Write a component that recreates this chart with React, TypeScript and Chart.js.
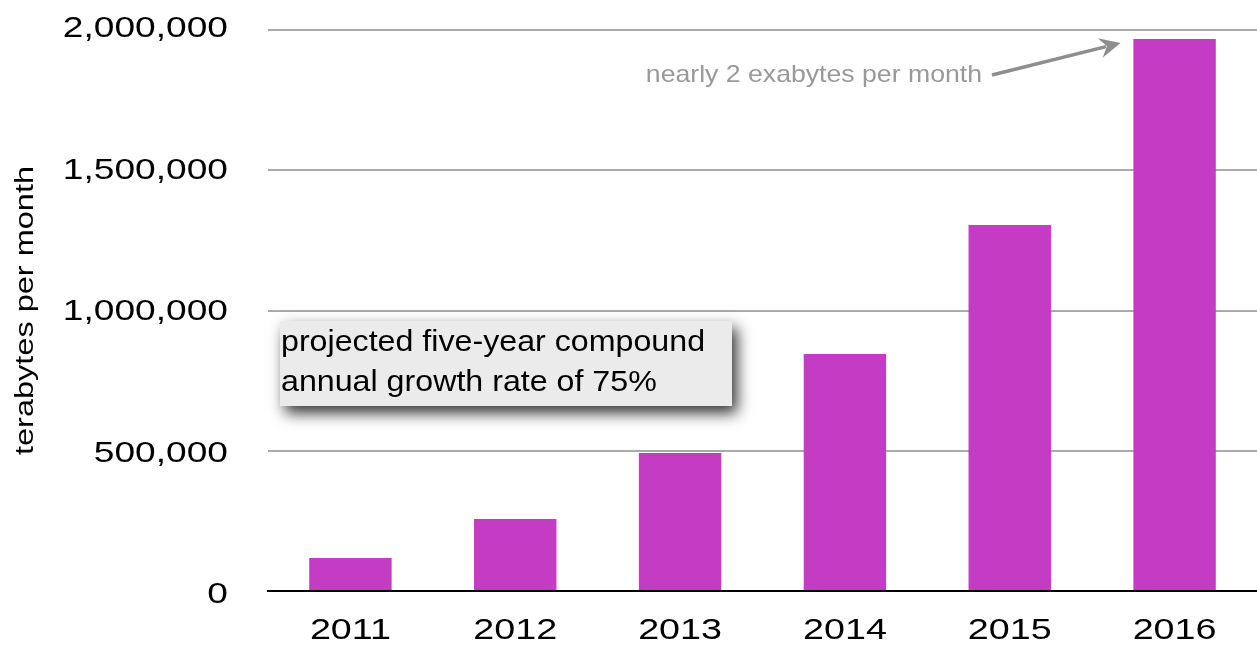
import React, { useEffect, useRef } from "react";
import { Chart, registerables } from "chart.js";

Chart.register(...registerables);

const years = ["2011", "2012", "2013", "2014", "2015", "2016"];
const terabytesPerMonth = [118000, 257000, 492000, 845000, 1305000, 1968000];
const yTicks = [0, 500000, 1000000, 1500000, 2000000];
const yMax = 2000000;
const axisTitle = "terabytes per month";
const boxLines = ["projected five-year compound", "annual growth rate of 75%"];
const arrowNote = "nearly 2 exabytes per month";

const FONT = "'Liberation Sans', Arial, Helvetica, sans-serif";

function drawText(
  ctx: CanvasRenderingContext2D,
  text: string,
  x: number,
  y: number,
  align: "left" | "right" | "center",
  size: number,
  stretch: number,
  color: string,
  rot = 0
) {
  ctx.save();
  ctx.translate(x, y);
  if (rot) ctx.rotate(rot);
  ctx.scale(stretch, 1);
  ctx.font = `${size}px ${FONT}`;
  ctx.fillStyle = color;
  ctx.textAlign = align;
  ctx.textBaseline = "alphabetic";
  ctx.fillText(text, 0, 0);
  ctx.restore();
}

const annotations = {
  id: "annotations",
  afterDraw(chart: any) {
    const ctx = chart.ctx as CanvasRenderingContext2D;
    const xs = chart.scales.x;
    const ys = chart.scales.y;
    ctx.save();

    // y tick labels
    yTicks.forEach((v) => {
      const py = ys.getPixelForValue(v);
      drawText(ctx, v.toLocaleString("en-US"), 228, py + 7 + 5 * (1 - v / yMax), "right", 29, 1.28, "#000");
    });
    // x tick labels
    years.forEach((lab, i) => {
      const px = xs.getPixelForValue(i);
      drawText(ctx, lab, px, 639, "center", 29, 1.3, "#000");
    });
    // y-axis title
    drawText(ctx, axisTitle, 33, (chart.chartArea.top + chart.chartArea.bottom) / 2, "center", 26, 1.25, "#000", -Math.PI / 2);

    // annotation box with shadow
    const bx = 280, by = 321, bw = 452, bh = 85;
    ctx.save();
    ctx.shadowColor = "rgba(0,0,0,0.8)";
    ctx.shadowBlur = 14;
    ctx.shadowOffsetX = 5;
    ctx.shadowOffsetY = 7;
    ctx.fillStyle = "#ebebeb";
    ctx.fillRect(bx, by, bw, bh);
    ctx.restore();
    ctx.fillStyle = "#ebebeb";
    ctx.fillRect(bx, by, bw, bh);
    drawText(ctx, boxLines[0], 281, 351, "left", 29, 1.11, "#000");
    drawText(ctx, boxLines[1], 281, 391, "left", 29, 1.11, "#000");

    // arrow note
    const tipX = xs.getPixelForValue(5) - 54;
    const tipY = ys.getPixelForValue(terabytesPerMonth[5]) + 4;
    drawText(ctx, arrowNote, 982, 82, "right", 24, 1.11, "#999");
    const sx = 992, sy = 75;
    ctx.strokeStyle = "#8e8e8e";
    ctx.fillStyle = "#8e8e8e";
    ctx.lineWidth = 3.5;
    const ang = Math.atan2(tipY - sy, tipX - sx);
    const hl = 21;
    const hw = 10;
    const c = Math.cos(ang), s = Math.sin(ang);
    ctx.beginPath();
    ctx.moveTo(sx, sy);
    ctx.lineTo(tipX - c * (hl - 6), tipY - s * (hl - 6));
    ctx.stroke();
    ctx.beginPath();
    ctx.moveTo(tipX, tipY);
    ctx.lineTo(tipX - hl * c + hw * s, tipY - hl * s - hw * c);
    ctx.lineTo(tipX - (hl - 7) * c, tipY - (hl - 7) * s);
    ctx.lineTo(tipX - hl * c - hw * s, tipY - hl * s + hw * c);
    ctx.closePath();
    ctx.fill();
    ctx.restore();
  },
};

export default function App() {
  const ref = useRef<HTMLCanvasElement>(null);
  useEffect(() => {
    const chart = new Chart(ref.current!, {
      type: "bar",
      data: {
        labels: years,
        datasets: [
          {
            data: terabytesPerMonth,
            backgroundColor: "#c33cc3",
            categoryPercentage: 1,
            barPercentage: 0.5,
          },
        ],
      },
      options: {
        animation: false,
        responsive: false,
        maintainAspectRatio: false,
        layout: { padding: { top: 30, right: 0, left: 0, bottom: 0 } },
        plugins: { legend: { display: false }, tooltip: { enabled: false } },
        scales: {
          x: {
            grid: { display: false, drawTicks: false },
            border: { display: true, color: "#000", width: 2 },
            ticks: { display: false },
            afterFit(scale: any) {
              scale.height = 54;
            },
          },
          y: {
            min: 0,
            max: yMax,
            afterBuildTicks(scale: any) {
              scale.ticks = yTicks.map((v) => ({ value: v }));
            },
            grid: {
              drawTicks: false,
              color: (c: any) => (c.tick && c.tick.value === 0 ? "rgba(0,0,0,0)" : "#aaaaaa"),
              lineWidth: 2,
            },
            border: { display: false },
            ticks: { display: false },
            afterFit(scale: any) {
              scale.width = 268;
            },
          },
        },
      },
      plugins: [annotations],
    });
    return () => chart.destroy();
  }, []);
  return (
    <div style={{ position: "fixed", left: 0, top: 0, width: 1257, height: 645, background: "#fff" }}>
      <canvas ref={ref} width={1257} height={645} />
    </div>
  );
}
